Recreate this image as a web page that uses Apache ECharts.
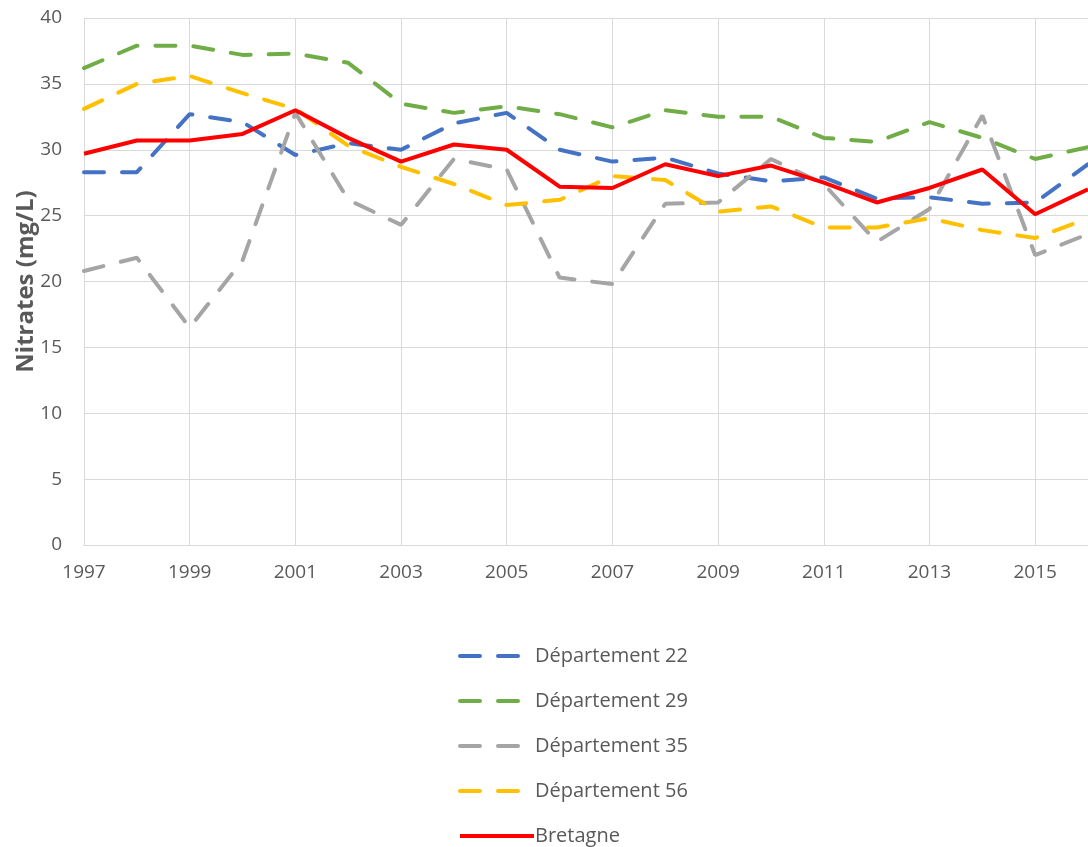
<!DOCTYPE html>
<html>
<head>
<meta charset="utf-8">
<script src="https://cdn.jsdelivr.net/npm/echarts@6/dist/echarts.min.js"></script>
<style>
html,body{margin:0;padding:0;background:#fff;}
#chart{width:1088px;height:847px;}
</style>
</head>
<body>
<div id="chart"></div>
<script>
var years=['1997','1998','1999','2000','2001','2002','2003','2004','2005','2006','2007','2008','2009','2010','2011','2012','2013','2014','2015','2016'];
var dep22=[28.3,28.3,32.7,32.1,29.6,30.5,30.0,32.0,32.8,30.0,29.1,29.4,28.2,27.6,27.9,26.3,26.4,25.9,26.0,28.9];
var dep29=[36.2,37.9,37.9,37.2,37.3,36.6,33.5,32.8,33.3,32.7,31.7,33.0,32.5,32.5,30.9,30.6,32.1,30.9,29.3,30.2];
var dep35=[20.8,21.8,16.5,21.6,32.8,26.2,24.3,29.3,28.5,20.3,19.8,25.9,26.0,29.3,27.4,23.0,25.5,32.6,22.0,23.6];
var dep56=[33.1,35.0,35.6,34.3,33.1,30.3,28.7,27.4,25.8,26.2,28.0,27.7,25.3,25.7,24.1,24.1,24.8,23.9,23.3,24.8];
var bretagne=[29.7,30.7,30.7,31.2,33.0,30.9,29.1,30.4,30.0,27.2,27.1,28.9,28.0,28.8,27.5,26.0,27.1,28.5,25.1,27.0];
var yTicks={min:0,max:40,interval:5};

var textColor='#595959';
var gridColor='#d9d9d9';

function dashSeries(name,color,data){
	return {
		name:name,
		type:'line',
		data:data,
		symbol:'none',
		smooth:false,
		lineStyle:{color:color,width:4,type:[20,18],cap:'round'},
		itemStyle:{color:color}
	};
}

var dom=document.getElementById('chart');
var myChart=echarts.init(dom);
var option={
	animation:false,
	textStyle:{fontFamily:'Open Sans'},
	grid:{left:84,top:18,width:1007,height:527,containLabel:false},
	legend:{
		orient:'vertical',
		left:453,
		top:641,
		height:230,
		itemWidth:74,
		itemHeight:14,
		itemGap:25,
		itemStyle:{color:'rgba(0,0,0,0)',borderColor:'rgba(0,0,0,0)',borderWidth:0,opacity:0},
		lineStyle:{width:4},
		textStyle:{color:textColor,fontSize:20,fontFamily:'Open Sans',padding:[0,0,0,-4]},
		data:['Département 22','Département 29','Département 35','Département 56','Bretagne']
	},
	xAxis:{
		type:'category',
		data:years,
		boundaryGap:false,
		axisLine:{lineStyle:{color:gridColor,width:1}},
		axisTick:{show:false},
		axisLabel:{color:textColor,fontSize:19,interval:1,margin:18},
		splitLine:{show:true,lineStyle:{color:gridColor,width:1}}
	},
	yAxis:{
		type:'value',
		min:yTicks.min,
		max:yTicks.max,
		interval:yTicks.interval,
		name:'Nitrates (mg/L)',
		nameLocation:'middle',
		nameGap:46,
		nameMoveOverlap:false,
		nameTextStyle:{color:textColor,fontSize:24,fontWeight:'bold'},
		axisLine:{show:false},
		axisTick:{show:false},
		axisLabel:{color:textColor,fontSize:19,margin:22},
		splitLine:{lineStyle:{color:gridColor,width:1}}
	},
	series:[
		dashSeries('Département 22','#4472C4',dep22),
		dashSeries('Département 29','#70AD47',dep29),
		dashSeries('Département 35','#A5A5A5',dep35),
		dashSeries('Département 56','#FFC000',dep56),
		{
			name:'Bretagne',
			type:'line',
			data:bretagne,
			symbol:'none',
			lineStyle:{color:'#FF0000',width:4},
			itemStyle:{color:'#FF0000'}
		}
	]
};
myChart.setOption(option,true);
</script>
</body>
</html>
